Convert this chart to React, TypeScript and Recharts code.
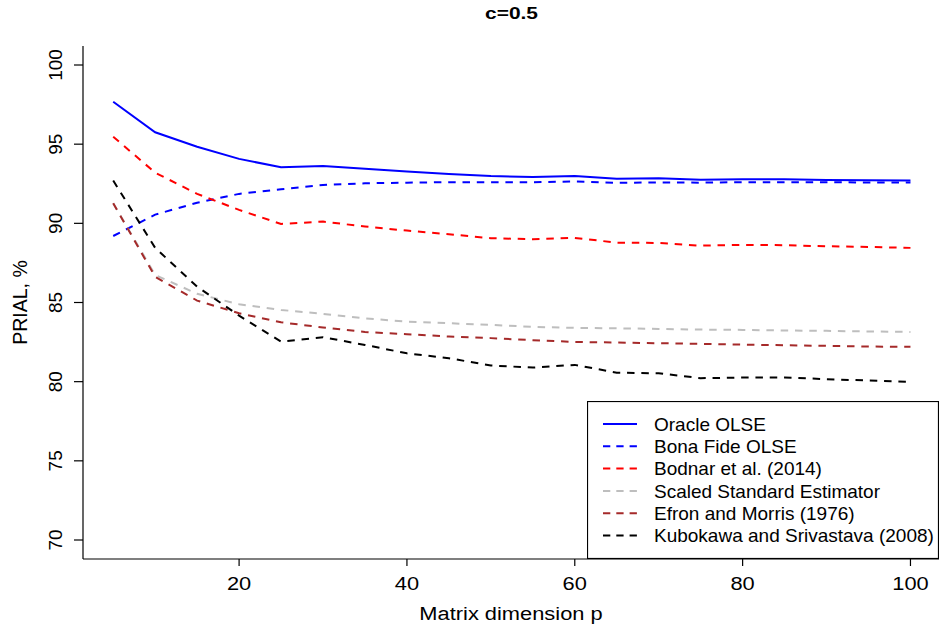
import { LineChart, Line, XAxis, YAxis, Legend, ReferenceLine } from "recharts";

// matrix dimension p
const pValues = [5, 10, 15, 20, 25, 30, 35, 40, 45, 50, 55, 60, 65, 70, 75, 80, 85, 90, 95, 100];

// PRIAL, %
const oracleOLSE = [97.68, 95.75, 94.84, 94.07, 93.54, 93.62, 93.45, 93.27, 93.12, 92.99, 92.93, 92.99, 92.82, 92.84, 92.76, 92.78, 92.78, 92.74, 92.72, 92.7];
const bonaFideOLSE = [89.2, 90.55, 91.3, 91.86, 92.15, 92.42, 92.53, 92.57, 92.6, 92.6, 92.6, 92.64, 92.56, 92.58, 92.57, 92.6, 92.6, 92.6, 92.58, 92.58];
const bodnar2014 = [95.47, 93.2, 91.86, 90.85, 89.96, 90.11, 89.8, 89.54, 89.31, 89.06, 89.0, 89.08, 88.78, 88.76, 88.59, 88.64, 88.62, 88.55, 88.51, 88.45];
const scaledStandard = [91.27, 86.74, 85.55, 84.89, 84.53, 84.28, 84.0, 83.79, 83.69, 83.59, 83.46, 83.4, 83.37, 83.33, 83.29, 83.27, 83.23, 83.21, 83.17, 83.14];
const efronMorris1976 = [91.27, 86.62, 85.12, 84.32, 83.75, 83.42, 83.14, 83.0, 82.85, 82.75, 82.62, 82.51, 82.47, 82.43, 82.39, 82.34, 82.3, 82.26, 82.22, 82.2];
const kubokawa2008 = [92.7, 88.45, 86.0, 84.17, 82.53, 82.81, 82.32, 81.79, 81.48, 81.02, 80.89, 81.06, 80.57, 80.53, 80.22, 80.26, 80.26, 80.16, 80.07, 79.99];

const xTicks = [20, 40, 60, 80, 100];
const yTicks = [70, 75, 80, 85, 90, 95, 100];

const series = [
  { key: "oracle", name: "Oracle OLSE", color: "#0000FF", dashed: false, values: oracleOLSE },
  { key: "bonaFide", name: "Bona Fide OLSE", color: "#0000FF", dashed: true, values: bonaFideOLSE },
  { key: "bodnar", name: "Bodnar et al. (2014)", color: "#FF0000", dashed: true, values: bodnar2014 },
  { key: "scaled", name: "Scaled Standard Estimator", color: "#BEBEBE", dashed: true, values: scaledStandard },
  { key: "efron", name: "Efron and Morris (1976)", color: "#A52A2A", dashed: true, values: efronMorris1976 },
  { key: "kubokawa", name: "Kubokawa and Srivastava (2008)", color: "#000000", dashed: true, values: kubokawa2008 },
];

const data = pValues.map((p, i) => {
  const row: Record<string, number> = { p };
  series.forEach((s) => {
    row[s.key] = s.values[i];
  });
  return row;
});

const FONT = '"Liberation Sans", Arial, Helvetica, sans-serif';

// plot box, same numbers the chart gets through margin / axis sizes
const W = 940;
const H = 635;
const TOP = 46;
const LEFT = 83;
const RIGHT = 1;
const X_AXIS_H = 76;
const Y_DOMAIN: [number, number] = [68.8, 101.2];
const X_DOMAIN: [number, number] = [1.4, 103.4];
const plotW = W - LEFT - RIGHT;
const plotH = H - TOP - X_AXIS_H;
const yPos = (v: number) => TOP + ((Y_DOMAIN[1] - v) / (Y_DOMAIN[1] - Y_DOMAIN[0])) * plotH;
// 9px outward tick, in data units
const yTickLen = (9 * (X_DOMAIN[1] - X_DOMAIN[0])) / plotW;

const renderXTick = ({ x, y, payload }: any) => (
  <g transform={`translate(${x},${y + 24})`}>
    <g transform="scale(1.15,1)">
      <text textAnchor="middle" fontSize={19} fontFamily={FONT} fill="#000">
        {payload.value}
      </text>
    </g>
  </g>
);

function LegendBox() {
  return (
    <svg width={352} height={158} style={{ display: "block" }}>
      <rect x={0.5} y={0.5} width={351} height={157} fill="#fff" stroke="#000" strokeWidth={1.2} />
      {series.map((s, i) => {
        const cy = 23 + i * 22.3;
        return (
          <g key={s.key}>
            <line
              x1={16}
              x2={50}
              y1={cy}
              y2={cy}
              stroke={s.color}
              strokeWidth={2}
              strokeDasharray={s.dashed ? "7.3 6" : undefined}
            />
            <text x={67} y={cy + 6.8} fontSize={19} fontFamily={FONT} fill="#000">
              {s.name}
            </text>
          </g>
        );
      })}
    </svg>
  );
}

export default function App() {
  return (
    <div style={{ position: "absolute", left: 0, top: 0, width: W, height: H, background: "#fff" }}>
      <LineChart width={W} height={H} data={data} margin={{ top: TOP, right: RIGHT, bottom: 0, left: 0 }}>
        <XAxis
          dataKey="p"
          type="number"
          domain={X_DOMAIN}
          ticks={xTicks}
          allowDataOverflow
          height={X_AXIS_H}
          tickSize={7}
          tickMargin={0}
          tick={renderXTick}
          stroke="#000"
          axisLine={{ stroke: "#000", strokeWidth: 1.2 }}
          tickLine={{ stroke: "#000", strokeWidth: 1.2 }}
        />
        <XAxis
          xAxisId="top"
          orientation="top"
          dataKey="p"
          type="number"
          domain={X_DOMAIN}
          allowDataOverflow
          height={0}
          tick={false}
          tickLine={false}
          axisLine={{ stroke: "#000", strokeWidth: 1.2 }}
        />
        <YAxis
          type="number"
          domain={Y_DOMAIN}
          ticks={yTicks}
          allowDataOverflow
          width={LEFT}
          tick={false}
          axisLine={{ stroke: "#000", strokeWidth: 1.2 }}
        />
        <YAxis
          yAxisId="right"
          orientation="right"
          type="number"
          domain={Y_DOMAIN}
          allowDataOverflow
          width={0}
          tick={false}
          tickLine={false}
          axisLine={{ stroke: "#000", strokeWidth: 1.2 }}
        />
        {/* outward y tick marks */}
        {yTicks.map((v) => (
          <ReferenceLine
            key={`yt-${v}`}
            segment={[
              { x: X_DOMAIN[0] - yTickLen, y: v },
              { x: X_DOMAIN[0], y: v },
            ]}
            ifOverflow="visible"
            stroke="#000"
            strokeWidth={1.2}
          />
        ))}
        {series.map((s) => (
          <Line
            key={s.key}
            type="linear"
            dataKey={s.key}
            name={s.name}
            stroke={s.color}
            strokeWidth={2}
            strokeDasharray={s.dashed ? "7.5 6.8" : undefined}
            dot={false}
            activeDot={false}
            isAnimationActive={false}
          />
        ))}
        <Legend
          layout="vertical"
          align="center"
          verticalAlign="middle"
          content={<LegendBox />}
          wrapperStyle={{ left: 587, top: 401, width: 352, height: 158 }}
        />
      </LineChart>
      <svg width={W} height={H} style={{ position: "absolute", left: 0, top: 0, pointerEvents: "none" }}>
        <g transform="translate(511.5,19)">
          <g transform="scale(1.23,1)">
            <text textAnchor="middle" fontSize={17} fontWeight="bold" fontFamily={FONT} fill="#000">
              c=0.5
            </text>
          </g>
        </g>
        <g transform="translate(511,620)">
          <g transform="scale(1.15,1)">
            <text textAnchor="middle" fontSize={19} fontFamily={FONT} fill="#000">
              Matrix dimension p
            </text>
          </g>
        </g>
        <text
          x={27}
          y={302.5}
          transform="rotate(-90 27 302.5)"
          textAnchor="middle"
          fontSize={19.5}
          fontFamily={FONT}
          fill="#000"
        >
          PRIAL, %
        </text>
        {/* y tick labels, parallel to the axis */}
        {yTicks.map((v) => (
          <text
            key={v}
            x={62}
            y={yPos(v)}
            transform={`rotate(-90 62 ${yPos(v)})`}
            textAnchor="middle"
            fontSize={19}
            fontFamily={FONT}
            fill="#000"
          >
            {v}
          </text>
        ))}
      </svg>
    </div>
  );
}
